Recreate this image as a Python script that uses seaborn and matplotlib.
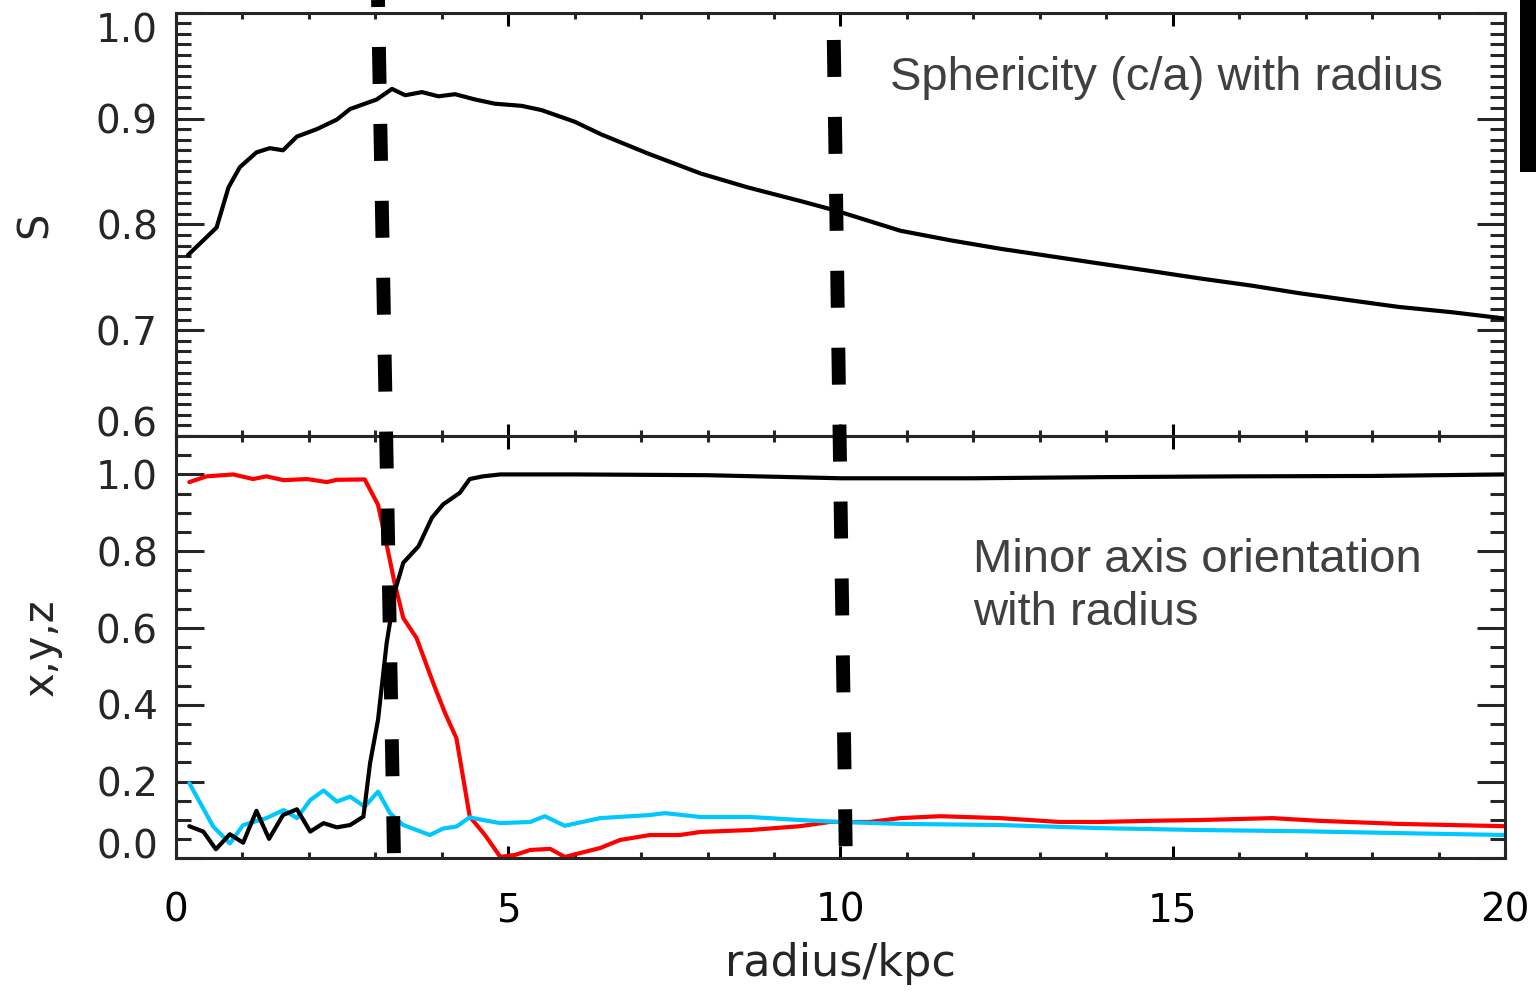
import matplotlib.pyplot as plt
import matplotlib.lines as mlines
import matplotlib.patches as mpatches
from matplotlib.ticker import MultipleLocator
import numpy as np
import pandas as pd
import seaborn as sns

# sphericity S = c/a against radius (top panel)
r_sph = [0.18, 0.61, 0.79, 0.96, 1.21, 1.41, 1.61, 1.82, 2.12, 2.42, 2.62, 3.02, 3.25,
         3.45, 3.7, 3.95, 4.2, 4.5, 4.8, 5.2, 5.5, 6.0, 6.4, 7.1, 7.9, 8.6, 9.4, 9.93,
         10.44, 10.9, 11.65, 12.4, 13.15, 13.9, 14.66, 15.4, 16.2, 16.9, 17.7, 18.4, 19.2, 20.0]
s_ca = [0.771, 0.797, 0.835, 0.854, 0.868, 0.872, 0.870, 0.883, 0.890, 0.899, 0.909, 0.918, 0.928,
        0.922, 0.925, 0.921, 0.923, 0.918, 0.914, 0.912, 0.908, 0.897, 0.885, 0.867, 0.848, 0.835, 0.822, 0.813,
        0.803, 0.794, 0.785, 0.777, 0.770, 0.763, 0.756, 0.749, 0.742, 0.735, 0.728, 0.722, 0.717, 0.711]

# minor axis orientation components (bottom panel)
r_red = [0.2, 0.46, 0.86, 1.16, 1.36, 1.62, 1.97, 2.27, 2.42, 2.84, 3.04, 3.17, 3.29, 3.42,
         3.62, 3.87, 4.05, 4.22, 4.42, 4.65, 4.88, 5.1, 5.33, 5.63, 5.85, 6.38, 6.68, 7.13,
         7.58, 7.89, 8.64, 9.39, 9.84, 10.44, 10.9, 11.5, 12.4, 13.3, 13.9, 14.66, 15.4,
         16.5, 17.2, 18.4, 19.2, 20.0]
comp_red = [0.980, 0.995, 1.0, 0.988, 0.995, 0.985, 0.988, 0.980, 0.986, 0.987, 0.921, 0.817, 0.717, 0.626,
            0.574, 0.457, 0.378, 0.313, 0.109, 0.061, 0.004, 0.009, 0.022, 0.025, 0.004, 0.027, 0.048, 0.061,
            0.061, 0.069, 0.074, 0.084, 0.095, 0.095, 0.105, 0.110, 0.105, 0.095, 0.095, 0.098, 0.100,
            0.105, 0.098, 0.090, 0.087, 0.084]

r_cyan = [0.2, 0.56, 0.81, 1.01, 1.36, 1.62, 1.82, 2.02, 2.22, 2.42, 2.62, 2.84, 3.04, 3.22,
          3.42, 3.82, 4.02, 4.22, 4.42, 4.62, 4.88, 5.33, 5.55, 5.85, 6.38, 7.13, 7.36, 7.89,
          8.64, 9.39, 9.99, 10.9, 12.4, 13.9, 15.4, 16.9, 18.4, 20.0]
comp_cyan = [0.196, 0.083, 0.039, 0.087, 0.105, 0.126, 0.105, 0.152, 0.177, 0.148, 0.161, 0.135, 0.174, 0.118,
             0.087, 0.061, 0.078, 0.083, 0.107, 0.100, 0.092, 0.095, 0.110, 0.085, 0.105, 0.113, 0.118, 0.108,
             0.108, 0.100, 0.095, 0.090, 0.087, 0.079, 0.074, 0.071, 0.066, 0.061]

r_black = [0.2, 0.41, 0.6, 0.81, 1.01, 1.21, 1.40, 1.61, 1.82, 2.02, 2.22, 2.42, 2.62, 2.82,
           2.92, 3.04, 3.17, 3.30, 3.42, 3.65, 3.85, 4.02, 4.27, 4.42, 4.62, 4.88, 6.0, 8.0,
           10.0, 12.0, 14.0, 16.0, 18.0, 20.0]
comp_black = [0.084, 0.070, 0.024, 0.063, 0.041, 0.124, 0.051, 0.113, 0.128, 0.070, 0.092, 0.081, 0.087, 0.109,
              0.248, 0.361, 0.561, 0.700, 0.770, 0.813, 0.887, 0.922, 0.952, 0.988, 0.995, 1.0, 1.0, 0.998,
              0.99, 0.99, 0.993, 0.995, 0.996, 1.0]

# radii marked by the thick dashed lines (top of figure, bottom of lower panel)
mark_r_top = [3.04, 9.89]
mark_r_bottom = [3.28, 10.08]
mark_phase = [30, 37]

x_major = [0, 5, 10, 15, 20]
s_ticks = [0.6, 0.7, 0.8, 0.9, 1.0]
xyz_ticks = [0.0, 0.2, 0.4, 0.6, 0.8, 1.0]

sns.set_style("ticks")
plt.rcParams['font.family'] = ['DejaVu Sans']

fig = plt.figure(figsize=(15.36, 9.93), dpi=100)
ax1 = fig.add_axes([0.1146, 0.5609, 0.8652, 0.4263])
ax2 = fig.add_axes([0.1146, 0.1355, 0.8652, 0.4254])

sns.lineplot(x=r_sph, y=s_ca, color='black', lw=3.0, ax=ax1, estimator=None, sort=False)
sns.lineplot(x=r_red, y=comp_red, color='#ff0000', lw=3.0, ax=ax2, estimator=None, sort=False)
sns.lineplot(x=r_cyan, y=comp_cyan, color='#00c8ff', lw=3.0, ax=ax2, estimator=None, sort=False)
sns.lineplot(x=r_black, y=comp_black, color='black', lw=3.0, ax=ax2, estimator=None, sort=False)

ax1.set_xlim(0, 20)
ax1.set_ylim(0.6, 1.0)
ax2.set_xlim(0, 20)
ax2.set_ylim(0, 1.1)

for ax in (ax1, ax2):
    for sp in ax.spines.values():
        sp.set_linewidth(2.2)
        sp.set_visible(True)
    ax.set_xticks(x_major)
    ax.xaxis.set_minor_locator(MultipleLocator(1))
    ax.tick_params(axis='x', which='major', direction='in', length=9, width=2.2,
                   top=True, bottom=True, labelsize=28, pad=24, colors='black')
    ax.tick_params(axis='x', which='minor', direction='in', length=4.5, width=2.2, top=True, bottom=True)
    ax.tick_params(axis='y', which='major', direction='in', length=20, width=2.2,
                   left=True, right=True, labelsize=28, pad=13)
    ax.tick_params(axis='y', which='minor', direction='in', length=11, width=2.2, left=True, right=True)

ax1.set_yticks(s_ticks)
ax1.set_yticklabels([f'{v:.1f}' for v in s_ticks])
ax1.yaxis.set_minor_locator(MultipleLocator(0.01))
ax1.set_xticklabels([])
ax1.set_xlabel('')
ax1.set_ylabel('S', fontsize=30, va='center')
ax1.yaxis.set_label_coords(-0.106, 0.5)

ax2.set_yticks(xyz_ticks)
ax2.set_yticklabels([f'{v:.1f}' for v in xyz_ticks])
ax2.yaxis.set_minor_locator(MultipleLocator(0.05))
ax2.set_xticklabels([str(v) for v in x_major])
ax2.set_ylabel('x,y,z', fontsize=30, va='center')
ax2.yaxis.set_label_coords(-0.102, 0.5)
ax2.set_xlabel('radius/kpc', fontsize=32, va='center')
ax2.xaxis.set_label_coords(0.5, -0.248)

lab = ax1.get_yticklabels()
lab[-1].set_va('top')
lab[0].set_va('baseline')
ax2.get_yticklabels()[0].set_va('baseline')

ax1.text(0.537, 0.845, 'Sphericity (c/a) with radius', transform=ax1.transAxes,
         fontsize=34, family='Liberation Sans', color='#404040', va='center', ha='left')
ax2.text(0.5997, 0.644, 'Minor axis orientation\nwith radius', transform=ax2.transAxes,
         fontsize=34, family='Liberation Sans', color='#404040', va='center', ha='left',
         linespacing=1.25)

# thick dashed markers spanning both panels
to_fig = fig.transFigure.inverted()
for rt, rb, ph in zip(mark_r_top, mark_r_bottom, mark_phase):
    p_top = to_fig.transform(ax1.transData.transform((rt, 1.0)))
    p_bot = to_fig.transform(ax2.transData.transform((rb, 0.008)))
    ln = mlines.Line2D([p_top[0], p_bot[0]], [1.0, p_bot[1]], transform=fig.transFigure,
                       color='black', lw=10, solid_capstyle='butt', dash_capstyle='butt',
                       linestyle=(ph / 13.9, (37 / 13.9, 40 / 13.9)))
    fig.add_artist(ln)

fig.add_artist(mpatches.Rectangle((0.9896, 0.8268), 0.0104, 0.1732, transform=fig.transFigure,
                                  color='black', lw=0))

fig.savefig('out.png', dpi=100)
